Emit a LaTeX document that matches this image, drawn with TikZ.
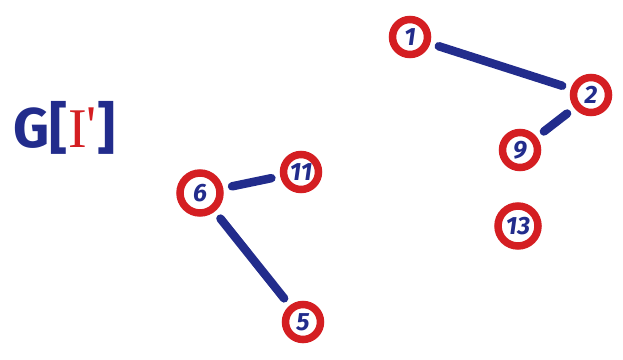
\documentclass[tikz,border=0pt]{standalone}
\usepackage{fontspec}
\setmainfont{Fira Sans}
\newfontfamily\romanI{Liberation Serif}
\definecolor{vred}{RGB}{212,30,34}
\definecolor{vblue}{RGB}{34,44,140}
\begin{document}
\begin{tikzpicture}[x=1pt,y=-1pt,
  vertex/.style={circle,draw=vred,line width=7.5pt,fill=white,text=vblue,
    minimum size=35pt,inner sep=0pt,font=\fontsize{25}{25}\selectfont\itshape\bfseries},
  bigvertex/.style={vertex,minimum size=40pt},
  edge/.style={draw=vblue,line width=8.5pt,line cap=round,shorten <=9pt,shorten >=9pt}]
\useasboundingbox (0,0) rectangle (623,359);
% graph label
\node[anchor=west,inner sep=0pt,text=vblue,font=\fontsize{56}{56}\selectfont\bfseries]
  (lbl) at (13,128) {G[\kern1pt{\romanI\mdseries\color{vred}I\kern-1pt\raisebox{3pt}{'}}\kern1pt]};
% vertices
\node[vertex] (v1) at (410,37) {1};
\node[vertex] (v2) at (591,95) {2};
\node[vertex] (v9) at (520,150) {9};
\node[bigvertex] (v13) at (518,226) {13};
\node[bigvertex] (v6) at (200,193) {6};
\node[vertex] (v11) at (301,172) {11};
\node[vertex] (v5) at (303,322) {5};
% edges
\draw[edge] (v1) -- (v2);
\draw[edge] (v2) -- (v9);
\draw[edge] (v6) -- (v11);
\draw[edge] (v6) -- (v5);
\end{tikzpicture}
\end{document}
